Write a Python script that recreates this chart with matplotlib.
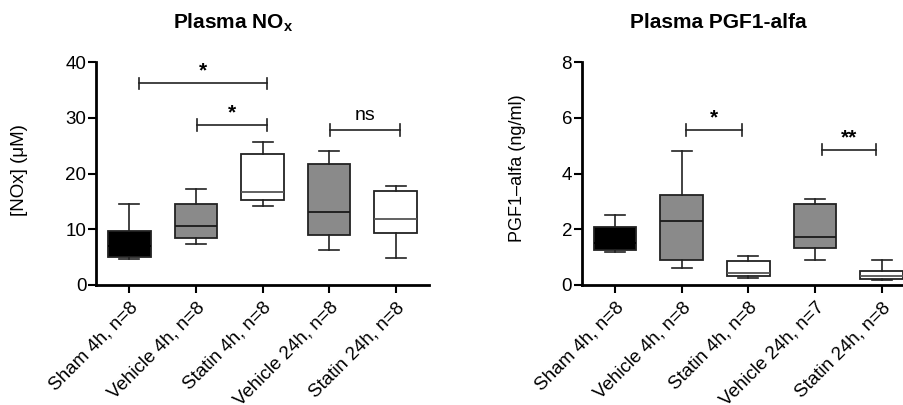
import numpy as np
import matplotlib
matplotlib.use('Agg')
import matplotlib.pyplot as plt

plt.rcParams['font.family'] = ['Liberation Sans', 'DejaVu Sans']
plt.rcParams['mathtext.fontset'] = 'custom'
plt.rcParams['mathtext.bf'] = 'Liberation Sans:bold'
plt.rcParams['mathtext.rm'] = 'Liberation Sans'

# ── Data ─────────────────────────────────────────────────────────────────────
groups_nox = ['Sham 4h, n=8', 'Vehicle 4h, n=8', 'Statin 4h, n=8',
              'Vehicle 24h, n=8', 'Statin 24h, n=8']
groups_pgf = ['Sham 4h, n=8', 'Vehicle 4h, n=8', 'Statin 4h, n=8',
              'Vehicle 24h, n=7', 'Statin 24h, n=8']

# whisker low, q1, median, q3, whisker high
nox_wlo = [4.7, 7.4, 14.2, 6.2, 4.8]
nox_q1  = [5.0, 8.4, 15.2, 8.9, 9.4]
nox_med = [7.0, 10.5, 16.6, 13.1, 11.9]
nox_q3  = [9.6, 14.5, 23.5, 21.7, 16.9]
nox_whi = [14.6, 17.2, 25.6, 24.1, 17.8]

pgf_wlo = [1.20, 0.60, 0.25, 0.90, 0.18]
pgf_q1  = [1.27, 0.90, 0.32, 1.32, 0.22]
pgf_med = [1.50, 2.30, 0.42, 1.71, 0.33]
pgf_q3  = [2.07, 3.22, 0.85, 2.90, 0.51]
pgf_whi = [2.50, 4.80, 1.04, 3.10, 0.91]

box_colors = ['black', '#8a8a8a', 'white', '#8a8a8a', 'white']
median_colors = ['black', '#1a1a1a', '#555555', '#1a1a1a', '#555555']

# significance brackets: (x start, x end, y, label)
nox_sig = [(0.14, 2.06, 36.2, '*'), (1.02, 2.06, 28.7, '*'), (3.02, 4.06, 27.8, 'ns')]
pgf_sig = [(1.06, 1.91, 5.56, '*'), (3.11, 3.92, 4.85, '**')]


def draw_panel(ax, labels, wlo, q1, med, q3, whi, ymax, yticks, sig):
    stats = [dict(whislo=a, q1=b, med=c, q3=d, whishi=e, fliers=[])
             for a, b, c, d, e in zip(wlo, q1, med, q3, whi)]
    pos = np.arange(len(stats))
    bp = ax.bxp(stats, positions=pos, widths=0.64, capwidths=0.3,
                patch_artist=True, showfliers=False,
                boxprops=dict(edgecolor='#222222', linewidth=1.3),
                whiskerprops=dict(color='#222222', linewidth=1.2),
                capprops=dict(color='#222222', linewidth=1.2),
                medianprops=dict(color='#222222', linewidth=1.3))
    for patch, c in zip(bp['boxes'], box_colors):
        patch.set_facecolor(c)
    for line, c in zip(bp['medians'], median_colors):
        line.set_color(c)

    ax.set_xlim(-0.5, 4.5)
    ax.set_ylim(0, ymax)
    ax.set_yticks(yticks)
    ax.set_xticks(pos)
    ax.set_xticklabels(labels, rotation=45, ha='right', rotation_mode='anchor',
                       fontsize=13.5)
    ax.tick_params(axis='y', labelsize=13.5, length=6, width=1.5, pad=1)
    ax.tick_params(axis='x', length=6, width=1.5, pad=4)
    for s in ['top', 'right']:
        ax.spines[s].set_visible(False)
    for s in ['left', 'bottom']:
        ax.spines[s].set_linewidth(2)

    cap = 0.025 * ymax
    for x1, x2, y, lab in sig:
        ax.plot([x1, x2], [y, y], color='#222222', lw=1.2, clip_on=False)
        ax.plot([x1, x1], [y - cap, y + cap], color='#222222', lw=1.2, clip_on=False)
        ax.plot([x2, x2], [y - cap, y + cap], color='#222222', lw=1.2, clip_on=False)
        if '*' in lab:
            ax.text((x1 + x2) / 2, y + 0.012 * ymax, lab, ha='center', va='bottom',
                    fontsize=15, fontweight='bold')
        else:
            ax.text((x1 + x2) / 2, y + 0.025 * ymax, lab, ha='center', va='bottom',
                    fontsize=14)


fig = plt.figure(figsize=(9.04, 4.05), dpi=100)
ax1 = fig.add_axes([0.1062, 0.2963, 0.3684, 0.5506])
ax2 = fig.add_axes([0.6435, 0.2963, 0.3687, 0.5506])

draw_panel(ax1, groups_nox, nox_wlo, nox_q1, nox_med, nox_q3, nox_whi,
           40, [0, 10, 20, 30, 40], nox_sig)
draw_panel(ax2, groups_pgf, pgf_wlo, pgf_q1, pgf_med, pgf_q3, pgf_whi,
           8, [0, 2, 4, 6, 8], pgf_sig)

fig.text(0.022, 0.58, '[NOx] (μM)', rotation=90, ha='center', va='center', fontsize=13.5)
fig.text(0.572, 0.585, 'PGF1–alfa (ng/ml)', rotation=90, ha='center', va='center', fontsize=13)

fig.text(0.258, 0.945, r'Plasma NO$_\mathbf{x}$', ha='center', va='center',
         fontsize=15, fontweight='bold')
fig.text(0.795, 0.945, 'Plasma PGF1-alfa', ha='center', va='center',
         fontsize=15, fontweight='bold')

fig.savefig('out.png', dpi=100)
